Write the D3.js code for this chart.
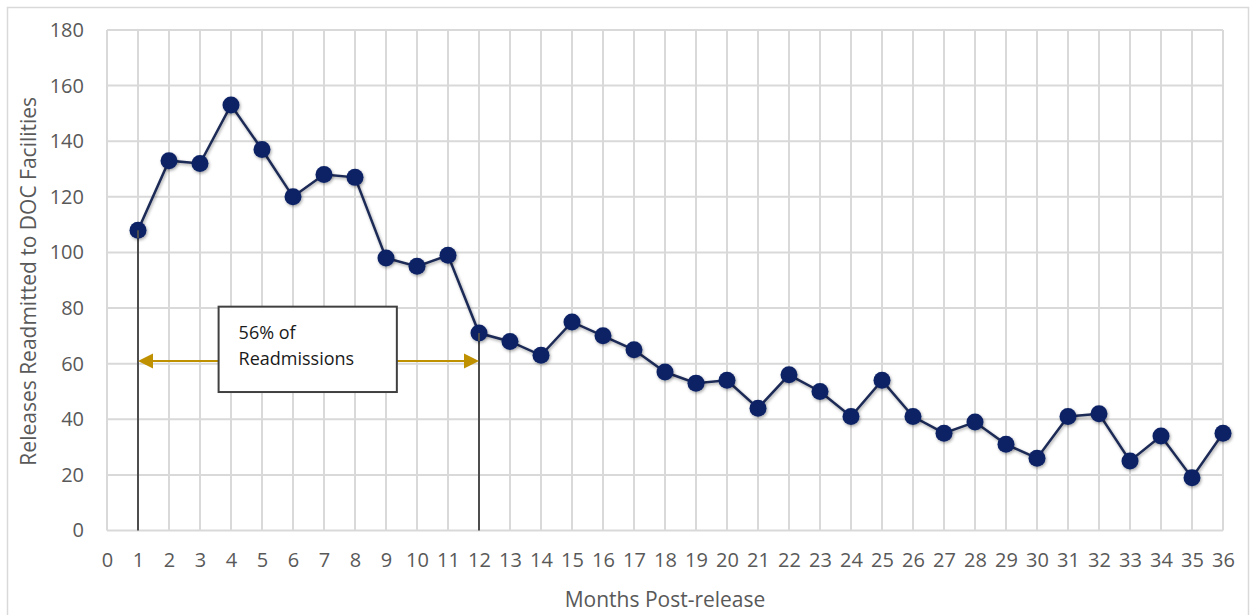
<!DOCTYPE html>
<html>
<head>
<meta charset="utf-8">
<script src="https://cdn.jsdelivr.net/npm/d3@7"></script>
<style>
  html, body { margin: 0; padding: 0; background: #fff; }
  svg { display: block; font-family: "Open Sans", "Noto Sans", sans-serif; }
</style>
</head>
<body>
<svg id="chart" width="1250" height="615"></svg>
<script>
// Monthly readmissions after release
const months = d3.range(1, 37);
const readmitted = [108, 133, 132, 153, 137, 120, 128, 127, 98, 95, 99, 71,
                    68, 63, 75, 70, 65, 57, 53, 54, 44, 56, 50, 41,
                    54, 41, 35, 39, 31, 26, 41, 42, 25, 34, 19, 35];
const xTicks = d3.range(0, 37);
const yTicks = [0, 20, 40, 60, 80, 100, 120, 140, 160, 180];

// Bracket annotation: months 1–12
const spanStart = 1;
const spanEnd = 12;
const arrowLevel = 61;
const noteLines = ["56% of", "Readmissions"];
const noteBox = { x0: 3.6, x1: 9.35, yTop: 80.5, yBottom: 49.8 };

const svg = d3.select("#chart");
const margin = { left: 107, right: 27, top: 30, bottom: 84.5 };
const W = 1250, H = 615;

const x = d3.scaleLinear().domain([0, 36]).range([margin.left, W - margin.right]);
const y = d3.scaleLinear().domain([0, 180]).range([H - margin.bottom, margin.top]);

// Outer chart frame
svg.append("rect")
  .attr("x", 7.5).attr("y", 7.5)
  .attr("width", 1241).attr("height", 640)
  .attr("fill", "none").attr("stroke", "#d9d9d9").attr("stroke-width", 1.5);

const shadow = svg.append("defs").append("filter")
  .attr("id", "shadow").attr("x", "-50%").attr("y", "-50%")
  .attr("width", "200%").attr("height", "200%");
shadow.append("feDropShadow")
  .attr("dx", 1).attr("dy", 1.5).attr("stdDeviation", 1.5)
  .attr("flood-color", "#000").attr("flood-opacity", 0.35);

// Grid
const grid = svg.append("g").attr("stroke", "#d9d9d9").attr("stroke-width", 2);
grid.selectAll("line.v").data(xTicks).join("line")
  .attr("x1", d => x(d)).attr("x2", d => x(d))
  .attr("y1", y(0)).attr("y2", y(180));
grid.selectAll("line.h").data(yTicks).join("line")
  .attr("x1", x(0)).attr("x2", x(36))
  .attr("y1", d => y(d)).attr("y2", d => y(d));

// Axes (labels only, lines come from the grid)
const xAxis = svg.append("g")
  .attr("transform", `translate(0,${y(0)})`)
  .call(d3.axisBottom(x).tickValues(xTicks).tickSize(0).tickPadding(22));
const yAxis = svg.append("g")
  .attr("transform", `translate(${x(0)},0)`)
  .call(d3.axisLeft(y).tickValues(yTicks).tickSize(0).tickPadding(23));
[xAxis, yAxis].forEach(a => {
  a.select(".domain").remove();
  a.selectAll("text")
    .attr("fill", "#595959")
    .style("font-size", "20px")
    .style("font-family", "'Open Sans', sans-serif");
});

// Axis titles
svg.append("text")
  .attr("x", x(18)).attr("y", 607)
  .attr("text-anchor", "middle")
  .attr("fill", "#595959").style("font-size", "21px")
  .text("Months Post-release");
svg.append("text")
  .attr("transform", `translate(36,${(y(0) + y(180)) / 2 + 1}) rotate(-90)`)
  .attr("text-anchor", "middle")
  .attr("fill", "#595959").style("font-size", "21px")
  .text("Releases Readmitted to DOC Facilities");

// Drop lines at the first and twelfth month
const dropLines = [spanStart, spanEnd];
svg.append("g").selectAll("line").data(dropLines).join("line")
  .attr("x1", d => x(d)).attr("x2", d => x(d))
  .attr("y1", d => y(readmitted[d - 1])).attr("y2", y(0))
  .attr("stroke", "#4d4d4d").attr("stroke-width", 2);

// Series line and markers
const line = d3.line().x((d, i) => x(months[i])).y(d => y(d));
svg.append("path")
  .datum(readmitted)
  .attr("d", line)
  .attr("fill", "none")
  .attr("stroke", "#1d2a57")
  .attr("stroke-width", 2.5)
  .attr("filter", "url(#shadow)");
svg.append("g").attr("filter", "url(#shadow)")
  .selectAll("circle").data(readmitted).join("circle")
  .attr("cx", (d, i) => x(months[i]))
  .attr("cy", d => y(d))
  .attr("r", 8.5)
  .attr("fill", "#0b2265");

// Redraw the drop-line stubs over the markers
svg.append("g").selectAll("line").data(dropLines).join("line")
  .attr("x1", d => x(d)).attr("x2", d => x(d))
  .attr("y1", d => y(readmitted[d - 1])).attr("y2", d => y(readmitted[d - 1]) + 8)
  .attr("stroke", "#4d4d4d").attr("stroke-width", 2);

// Gold arrows from the note box to each drop line
const gold = "#bf9000";
const ay = y(arrowLevel);
const arrows = [
  { from: x(noteBox.x0), to: x(spanStart), dir: -1 },
  { from: x(noteBox.x1), to: x(spanEnd), dir: 1 }
];
const ag = svg.append("g");
ag.selectAll("line").data(arrows).join("line")
  .attr("x1", d => d.from).attr("x2", d => d.to - d.dir * 12)
  .attr("y1", ay).attr("y2", ay)
  .attr("stroke", gold).attr("stroke-width", 2);
ag.selectAll("path").data(arrows).join("path")
  .attr("d", d => `M${d.to},${ay} L${d.to - d.dir * 15},${ay - 7.5} L${d.to - d.dir * 15},${ay + 7.5} Z`)
  .attr("fill", gold);

// Note box
svg.append("rect")
  .attr("x", x(noteBox.x0)).attr("y", y(noteBox.yTop))
  .attr("width", x(noteBox.x1) - x(noteBox.x0))
  .attr("height", y(noteBox.yBottom) - y(noteBox.yTop))
  .attr("fill", "#fff").attr("stroke", "#404040").attr("stroke-width", 2);
svg.append("g").selectAll("text").data(noteLines).join("text")
  .attr("x", x(noteBox.x0) + 20)
  .attr("y", (d, i) => y(noteBox.yTop) + 32 + i * 26)
  .attr("fill", "#1a1a1a")
  .style("font-size", "18px")
  .text(d => d);
</script>
</body>
</html>
